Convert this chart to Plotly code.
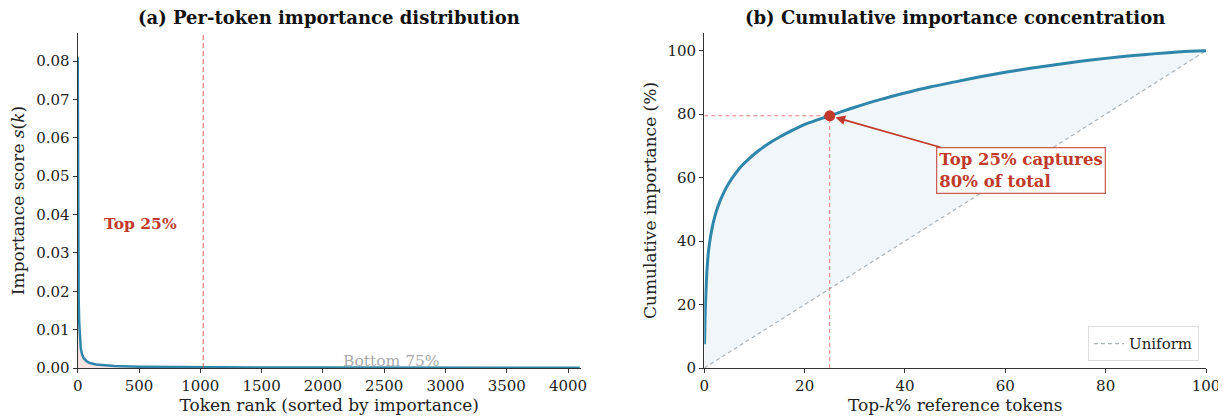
import plotly.graph_objects as go

# ---------- data ----------
# (a) per-token importance, sorted (rank, score)
rank = [0, 1, 2, 3, 5, 8, 12, 18, 25, 35, 50, 75, 100, 150, 200, 300, 500, 750,
        1000, 1024, 1500, 2000, 3000, 4095]
score = [0.081, 0.060, 0.045, 0.036, 0.026, 0.018, 0.012, 0.0075, 0.0052, 0.0036,
         0.0025, 0.0017, 0.0013, 0.0009, 0.0007, 0.0005, 0.00033, 0.00024,
         0.00019, 0.00019, 0.00014, 0.00011, 0.00007, 0.00004]
cut_rank = 1024

# (b) cumulative importance (top-k %, cumulative %)
topk = [0.05, 0.15, 0.3, 0.5, 0.85, 1.2, 1.6, 2.1, 2.7, 3.4, 4.2, 5.1, 6.2, 7.5, 9,
        11, 13, 15, 17.5, 20, 22.5, 25, 27.5, 30, 35, 40, 45, 50, 55, 60, 65, 70,
        75, 80, 85, 90, 95, 100]
cum = [7.5, 16, 23, 30, 37, 41, 44.5, 47.8, 50.8, 53.6, 56.3, 58.8, 61.3, 63.8, 66.1,
       68.7, 70.9, 72.8, 74.9, 76.8, 78.2, 79.5, 80.9, 82.2, 84.6, 86.7, 88.6, 90.2,
       91.8, 93.2, 94.5, 95.6, 96.7, 97.6, 98.4, 99.1, 99.7, 100]
uniform_x = [0, 100]
uniform_y = [0, 100]
mark_x, mark_y = 25, 79.5

BLUE = "#2E86AB"
RED = "#C0392B"
GUIDE = "rgba(222,80,76,0.75)"
FONT = "DejaVu Serif"

# page has an 8px body margin -> figure is placed at (8, 8)
W, H = 1218, 410
OFF = 8

fig = go.Figure()

# ---------- panel (a) ----------
top_r = [r for r in rank if r <= cut_rank]
top_s = [s for r, s in zip(rank, score) if r <= cut_rank]
bot_r = [r for r in rank if r >= cut_rank]
bot_s = [s for r, s in zip(rank, score) if r >= cut_rank]

fig.add_trace(go.Scatter(x=top_r, y=top_s, mode="lines", line=dict(width=0),
                         fill="tozeroy", fillcolor="rgba(214,69,65,0.15)",
                         showlegend=False, hoverinfo="skip", xaxis="x", yaxis="y"))
fig.add_trace(go.Scatter(x=bot_r, y=bot_s, mode="lines", line=dict(width=0),
                         fill="tozeroy", fillcolor="rgba(46,134,171,0.15)",
                         showlegend=False, hoverinfo="skip", xaxis="x", yaxis="y"))
fig.add_trace(go.Scatter(x=rank, y=score, mode="lines", line=dict(color=BLUE, width=2.5),
                         showlegend=False, xaxis="x", yaxis="y"))
fig.add_trace(go.Scatter(x=[cut_rank, cut_rank], y=[0, 0.0875], mode="lines",
                         line=dict(color=GUIDE, width=1.2, dash="5px,3px"),
                         showlegend=False, xaxis="x", yaxis="y"))

# ---------- panel (b) ----------
fig.add_trace(go.Scatter(x=uniform_x, y=uniform_y, mode="lines",
                         line=dict(color="rgba(0,0,0,0)", width=0),
                         showlegend=False, hoverinfo="skip", xaxis="x2", yaxis="y2"))
fig.add_trace(go.Scatter(x=[0] + topk, y=[0] + cum, mode="lines", line=dict(width=0),
                         fill="tonexty", fillcolor="rgba(46,134,171,0.07)",
                         showlegend=False, hoverinfo="skip", xaxis="x2", yaxis="y2"))
fig.add_trace(go.Scatter(x=uniform_x, y=uniform_y, mode="lines", name="Uniform",
                         line=dict(color="#AAB4BB", width=1.2, dash="4px,3px"),
                         showlegend=True, xaxis="x2", yaxis="y2"))
fig.add_trace(go.Scatter(x=[0, mark_x], y=[mark_y, mark_y], mode="lines",
                         line=dict(color=GUIDE, width=1, dash="4px,3px"),
                         showlegend=False, xaxis="x2", yaxis="y2"))
fig.add_trace(go.Scatter(x=[mark_x, mark_x], y=[0, mark_y], mode="lines",
                         line=dict(color=GUIDE, width=1, dash="4px,3px"),
                         showlegend=False, xaxis="x2", yaxis="y2"))
fig.add_trace(go.Scatter(x=topk, y=cum, mode="lines",
                         line=dict(color=BLUE, width=3, shape="spline", smoothing=0.6),
                         showlegend=False, xaxis="x2", yaxis="y2"))
fig.add_trace(go.Scatter(x=[mark_x], y=[mark_y], mode="markers",
                         marker=dict(color=RED, size=11),
                         showlegend=False, xaxis="x2", yaxis="y2"))

axis_common = dict(showgrid=False, zeroline=False, showline=True, linecolor="#333333",
                   linewidth=1.3, ticks="outside", ticklen=4, tickwidth=1.2,
                   tickcolor="#333333", tickfont=dict(family=FONT, size=15, color="#222222"),
                   mirror=False, automargin=False)

TFONT = dict(family=FONT, size=17, color="#222222")

AX_L0, AX_L1 = 77.7 - OFF, 580.7 - OFF
AX_R0, AX_R1 = 704.3 - OFF, 1206 - OFF

fig.update_layout(
    width=W, height=H,
    margin=dict(l=0, r=0, t=33 - OFF, b=H - (368 - OFF)),
    paper_bgcolor="white", plot_bgcolor="white",
    font=dict(family=FONT, color="#222222"),
    xaxis=dict(domain=[AX_L0 / W, AX_L1 / W], range=[0, 4103], dtick=500,
               title=dict(text="Token rank (sorted by importance)", font=TFONT, standoff=4),
               anchor="y", **axis_common),
    yaxis=dict(domain=[0, 1], range=[0, 0.0873], dtick=0.01, tickformat=".2f",
               title=dict(text="Importance score <i>s</i>(<i>k</i>)", font=TFONT, standoff=8),
               anchor="x", **axis_common),
    xaxis2=dict(domain=[AX_R0 / W, AX_R1 / W], range=[0, 100], dtick=20,
                title=dict(text="Top-<i>k</i>% reference tokens", font=TFONT, standoff=4),
                anchor="y2", **axis_common),
    yaxis2=dict(domain=[0, 1], range=[0, 105.6], dtick=20,
                title=dict(text="Cumulative importance (%)", font=TFONT, standoff=6),
                anchor="x2", **axis_common),
    legend=dict(x=(1199 - OFF) / W, xanchor="right", y=0.02, yanchor="bottom",
                bgcolor="white", bordercolor="#DDDDDD", borderwidth=1,
                font=dict(family=FONT, size=15, color="#222222")),
    annotations=[
        dict(text="<b>(a) Per-token importance distribution</b>", xref="paper",
             yref="paper", x=(AX_L0 + AX_L1) / 2 / W, y=1.0, yshift=16,
             xanchor="center", yanchor="middle", showarrow=False,
             font=dict(family=FONT, size=18, color="#111111")),
        dict(text="<b>(b) Cumulative importance concentration</b>", xref="paper",
             yref="paper", x=(AX_R0 + AX_R1) / 2 / W, y=1.0, yshift=16,
             xanchor="center", yanchor="middle", showarrow=False,
             font=dict(family=FONT, size=18, color="#111111")),
        dict(text="<b>Top 25%</b>", xref="x", yref="y", x=512, y=0.0376,
             showarrow=False, font=dict(family=FONT, size=15.5, color=RED)),
        dict(text="Bottom 75%", xref="x", yref="y", x=2560, y=0.0019,
             showarrow=False, font=dict(family=FONT, size=15.5, color="#AAAAAA")),
        dict(text="<b>Top 25% captures<br>80% of total</b>", xref="x2", yref="y2",
             x=mark_x, y=mark_y, axref="x2", ayref="y2", ax=63.1, ay=62.4,
             showarrow=True, arrowhead=2, arrowsize=1.2, arrowwidth=1.6,
             arrowcolor=RED, standoff=6, align="left",
             bgcolor="white", bordercolor="rgba(192,57,43,0.8)", borderwidth=1.3,
             borderpad=2, font=dict(family=FONT, size=16.5, color=RED)),
    ],
)

fig.write_html("out.html")
